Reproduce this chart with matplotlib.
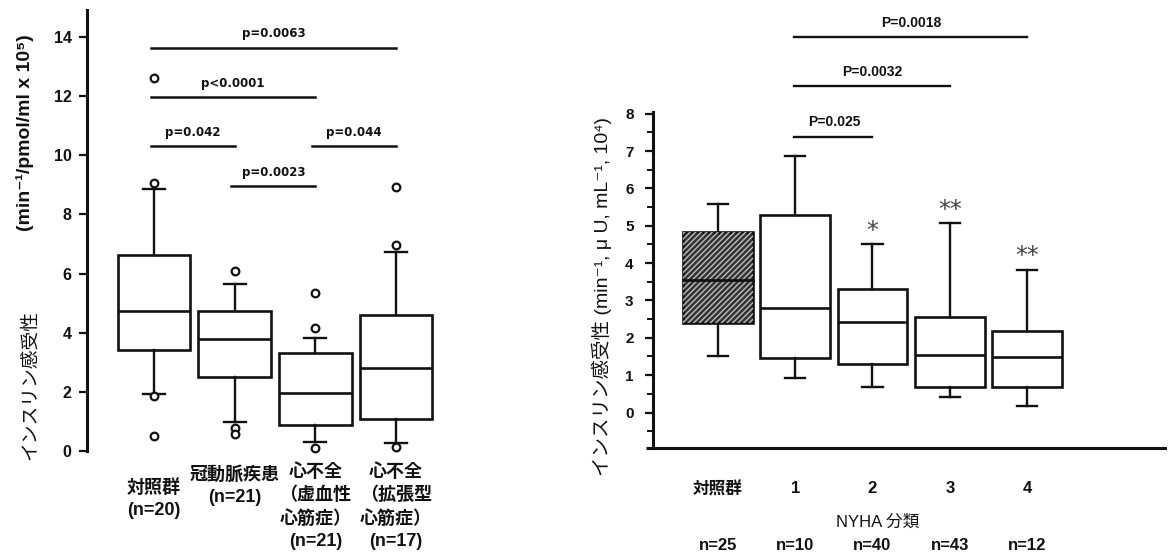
import matplotlib
matplotlib.use('Agg')
import matplotlib.pyplot as plt
from matplotlib.patches import Rectangle
from matplotlib import transforms as mtrans
from matplotlib.ticker import FixedLocator

# ---------------- data: left panel ----------------
left_labels = ['対照群\n(n=20)', '冠動脈疾患\n(n=21)',
               '心不全\n（虚血性\n心筋症）\n(n=21)', '心不全\n（拡張型\n心筋症）\n(n=17)']
left_q1 = [3.42, 2.52, 0.88, 1.10]
left_med = [4.73, 3.79, 1.96, 2.80]
left_q3 = [6.62, 4.75, 3.30, 4.60]
left_whislo = [1.92, 0.97, 0.30, 0.28]
left_whishi = [8.85, 5.65, 3.83, 6.73]
left_fliers = [[12.6, 9.05, 1.85, 0.5], [6.07, 0.78, 0.58], [5.35, 4.15, 0.1], [8.93, 6.95, 0.15]]
left_yticks = [0, 2, 4, 6, 8, 10, 12, 14]
left_pvals = ['p=0.0063', 'p<0.0001', 'p=0.042', 'p=0.0023', 'p=0.044']
left_pairs = [(0, 3), (0, 2), (0, 1), (1, 2), (2, 3)]
left_pheights = [13.63, 11.96, 10.3, 8.95, 10.3]

# ---------------- data: right panel ----------------
right_cats = ['対照群', '1', '2', '3', '4']
right_n = ['n=25', 'n=10', 'n=40', 'n=43', 'n=12']
right_q1 = [2.40, 1.47, 1.31, 0.67, 0.67]
right_med = [3.56, 2.80, 2.42, 1.55, 1.48]
right_q3 = [4.83, 5.28, 3.30, 2.55, 2.17]
right_whislo = [1.52, 0.92, 0.68, 0.42, 0.17]
right_whishi = [5.58, 6.88, 4.50, 5.08, 3.82]
right_yticks = [0, 1, 2, 3, 4, 5, 6, 7, 8]
right_minor = [-0.5, 0.5, 1.5, 2.5, 3.5, 4.5, 5.5, 6.5, 7.5]
right_stars = ['', '', '*', '**', '**']
right_star_y = [None, None, 4.85, 5.43, 4.20]
right_pvals = ['P=0.025', 'P=0.0032', 'P=0.0018']
right_pairs = [(1, 2), (1, 3), (1, 4)]
right_pheights = [7.38, 8.74, 10.05]

W, H = 1168, 560
def fx(px):
    return px / W
def fy(py):
    return 1 - py / H

SANS = ['Liberation Sans', 'DejaVu Sans', 'Noto Sans CJK JP']
JP = ['Liberation Sans', 'Noto Sans CJK JP']
INK = '#111111'

plt.rcParams['font.family'] = SANS

fig = plt.figure(figsize=(W / 100, H / 100), dpi=100)
fig.patch.set_facecolor('white')

# ================= LEFT PANEL =================
ax1 = fig.add_axes([fx(87), fy(466), fx(440) - fx(87), fy(10) - fy(466)])
pos1 = list(range(len(left_q1)))
stats1 = [dict(q1=a, med=b, q3=c, whislo=d, whishi=e, fliers=f)
          for a, b, c, d, e, f in zip(left_q1, left_med, left_q3, left_whislo, left_whishi, left_fliers)]
ax1.bxp(stats1, positions=pos1, widths=0.9, capwidths=0.27, patch_artist=True,
        boxprops=dict(facecolor='white', edgecolor=INK, linewidth=1.9),
        medianprops=dict(color=INK, linewidth=1.9),
        whiskerprops=dict(color=INK, linewidth=1.7),
        capprops=dict(color=INK, linewidth=1.7),
        flierprops=dict(marker='o', markerfacecolor='white', markeredgecolor=INK,
                        markersize=5.5, markeredgewidth=1.6),
        manage_ticks=False)
ax1.set_xlim(-0.83, 3.545)
ax1.set_ylim(-0.5, 14.9)
for s in ['top', 'right', 'bottom']:
    ax1.spines[s].set_visible(False)
ax1.spines['left'].set_bounds(0, 14.9)
ax1.spines['left'].set_linewidth(2.2)
ax1.spines['left'].set_color(INK)
ax1.set_xticks([])
ax1.set_yticks(left_yticks)
ax1.tick_params(axis='y', length=6, width=1.6, pad=5, colors=INK, labelsize=11.5)
for t in ax1.get_yticklabels():
    t.set_fontweight('bold')

for (i, j), h, lab in zip(left_pairs, left_pheights, left_pvals):
    ax1.plot([pos1[i] - 0.04, pos1[j]], [h, h], color=INK, lw=1.8, clip_on=False)
    ax1.text((pos1[i] + pos1[j] - 0.04) / 2, h + 0.25, lab, ha='center', va='bottom',
             fontsize=8.5, fontweight='bold', family='DejaVu Sans', color=INK)

tr1 = mtrans.blended_transform_factory(ax1.transData, fig.transFigure)
left_label_top = [479, 466, 463, 463]
for p, lab, top in zip(pos1, left_labels, left_label_top):
    fig.text(p, fy(top), lab, transform=tr1, ha='center', va='top', fontsize=13,
             fontweight='bold', family=JP, linespacing=1.42, color=INK)

fig.text(fx(30), fy(385), 'インスリン感受性', rotation=90, ha='center', va='center',
         fontsize=13.5, family=JP, color=INK)
fig.text(fx(25), fy(133), '(min⁻¹/pmol/ml x 10⁵)', rotation=90, ha='center', va='center',
         fontsize=14, fontweight='bold', family=SANS, color=INK)

# ================= RIGHT PANEL =================
ax2 = fig.add_axes([fx(653), fy(448), (1165 - 653) / W, (448 - 16.6) / H])
pos2 = list(range(len(right_q1)))
stats2 = [dict(q1=a, med=b, q3=c, whislo=d, whishi=e, fliers=[])
          for a, b, c, d, e in zip(right_q1, right_med, right_q3, right_whislo, right_whishi)]
bp2 = ax2.bxp(stats2, positions=pos2, widths=0.9, capwidths=0.26, patch_artist=True,
              boxprops=dict(facecolor='white', edgecolor=INK, linewidth=1.9),
              medianprops=dict(color=INK, linewidth=1.9),
              whiskerprops=dict(color=INK, linewidth=1.7),
              capprops=dict(color=INK, linewidth=1.7),
              showfliers=False, manage_ticks=False)
bp2['boxes'][0].set_facecolor('#333333')
ax2.add_patch(Rectangle((pos2[0] - 0.45, right_q1[0]), 0.9, right_q3[0] - right_q1[0],
                        fill=False, hatch='//////', edgecolor='#bdbdbd', linewidth=0, zorder=2.5))
ax2.plot([pos2[0] - 0.45, pos2[0] + 0.45], [right_med[0], right_med[0]], color=INK, lw=1.9, zorder=3)

ax2.set_xlim(-0.841, 5.786)
ax2.set_ylim(-0.95, 10.6)
for s in ['top', 'right']:
    ax2.spines[s].set_visible(False)
ax2.spines['left'].set_bounds(-0.95, 8.05)
for s in ['left', 'bottom']:
    ax2.spines[s].set_linewidth(2.2)
    ax2.spines[s].set_color(INK)
ax2.set_yticks(right_yticks)
ax2.yaxis.set_minor_locator(FixedLocator(right_minor))
ax2.tick_params(axis='y', which='major', length=6, width=1.6, pad=8, colors=INK, labelsize=11)
ax2.tick_params(axis='y', which='minor', length=4.5, width=1.4, colors=INK)
for t in ax2.get_yticklabels():
    t.set_fontweight('bold')
ax2.set_xticks(pos2, right_cats)
ax2.tick_params(axis='x', length=0, pad=24, labelsize=12, colors=INK)
for t in ax2.get_xticklabels():
    t.set_fontweight('bold')
    t.set_family(JP)
ax2.plot([-0.93, -0.841], [-0.95, -0.95], color=INK, lw=2.2, clip_on=False, solid_capstyle='butt')

for (i, j), h, lab in zip(right_pairs, right_pheights, right_pvals):
    ax2.plot([pos2[i] - 0.02, pos2[j]], [h, h], color=INK, lw=1.7, clip_on=False)
    ax2.text((pos2[i] + pos2[j]) / 2, h + 0.2, lab, ha='center', va='bottom',
             fontsize=10, fontweight='bold', color=INK)

for p, s, y in zip(pos2, right_stars, right_star_y):
    if s:
        ax2.text(p, y, s, ha='center', va='center', fontsize=17, color='#444444',
                 family='DejaVu Sans')

tr2 = mtrans.blended_transform_factory(ax2.transData, fig.transFigure)
fig.text(fx(878), fy(522), 'NYHA 分類', ha='center', va='center', fontsize=12, family=JP, color=INK)
for p, lab in zip(pos2, right_n):
    fig.text(p, fy(545), lab, transform=tr2, ha='center', va='center', fontsize=12,
             fontweight='bold', color=INK)

fig.text(fx(602), fy(297), 'インスリン感受性 (min⁻¹, μ U, mL⁻¹, 10⁴)', rotation=90,
         ha='center', va='center', fontsize=14, family=SANS, color=INK)

fig.savefig('out.png', dpi=100, facecolor='white')
